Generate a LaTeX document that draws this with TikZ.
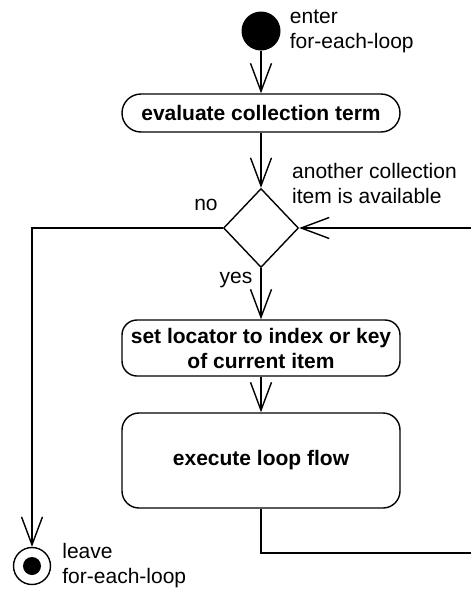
\documentclass[tikz,border=0pt]{standalone}
\usepackage{fontspec}
\setmainfont{Liberation Sans}
\usetikzlibrary{shapes.geometric, arrows.meta, positioning}
\tikzstyle{activity} = [rectangle, draw=black, line width=1.4pt, minimum width=278pt, text centered, align=center, font=\fontsize{21}{25}\selectfont\bfseries]
\tikzstyle{decision} = [diamond, draw=black, line width=1.4pt, minimum width=75pt, minimum height=79pt, inner sep=0pt]
\tikzstyle{startdot} = [circle, fill=black, minimum size=39pt, inner sep=0pt]
\tikzstyle{enddot} = [circle, draw=black, line width=1.4pt, minimum size=37pt, inner sep=0pt, path picture={\fill[black] (path picture bounding box.center) circle (9pt);}]
\tikzstyle{note} = [align=left, inner sep=0pt]
\tikzstyle{arrow} = [line width=1.4pt, -{Straight Barb[length=28pt, width=21pt]}]

\begin{document}
\begin{tikzpicture}[x=1pt, y=-1pt, font=\fontsize{21}{25}\selectfont]
\useasboundingbox (0,0) rectangle (471,592);
\clip (0,0) rectangle (471,592);
\node (enter) [startdot] at (261,31) {};
\node (eval) [activity, below of=enter, node distance=82pt, minimum height=38pt, rounded corners=19pt] {evaluate collection term};
\node (avail) [decision, below of=eval, node distance=115pt] {};
\node (locator) [activity, below of=avail, node distance=120pt, minimum height=56pt, rounded corners=15pt] {set locator to index or key\\of current item};
\node (body) [activity, below of=locator, node distance=112.5pt, minimum height=95pt, rounded corners=17pt] {execute loop flow};
\node (leave) [enddot] at (32,566) {};
\coordinate (back) at (480,553);

\node (enterlbl) [note, right=9pt of enter] {enter\\for-each-loop};
\node (leavelbl) [note, right=11pt of leave] {leave\\for-each-loop};
\node (availlbl) [note, anchor=west] at (292,183) {another collection\\item is available};
\node (nolbl) at (206,205) {no};
\node (yeslbl) at (236,280) {yes};

\draw [arrow] (enter) -- (eval);
\draw [arrow] (eval) -- (avail);
\draw [arrow] (avail) -- (locator);
\draw [arrow] (locator) -- (body);
\draw [arrow] (avail) -| (leave);
\draw [arrow] (body) |- (back) |- (avail);
\end{tikzpicture}
\end{document}
